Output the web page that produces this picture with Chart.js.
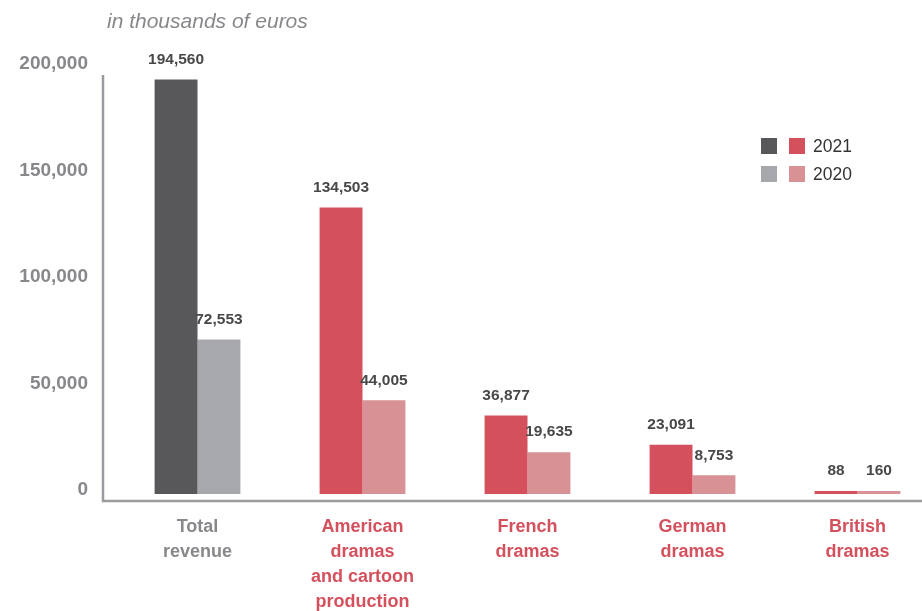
<!DOCTYPE html>
<html>
<head>
<meta charset="utf-8">
<script src="https://cdn.jsdelivr.net/npm/chart.js@4.4.1/dist/chart.umd.min.js"></script>
<style>
  html, body { margin: 0; padding: 0; background: #fff; overflow: hidden; }
  #wrap { width: 940px; height: 611px; }
</style>
</head>
<body>
<div id="wrap"><canvas id="chart" width="940" height="611"></canvas></div>
<script>
const categories = [
    ['Total', 'revenue'],
    ['American', 'dramas', 'and cartoon', 'production'],
    ['French', 'dramas'],
    ['German', 'dramas'],
    ['British', 'dramas'],
];
const values2021 = [194560, 134503, 36877, 23091, 88];
const values2020 = [72553, 44005, 19635, 8753, 160];
const yTicks = [0, 50000, 100000, 150000, 200000];

const colors2021 = ['#58585a', '#d4505c', '#d4505c', '#d4505c', '#d4505c'];
const colors2020 = ['#a7a8ab', '#d89295', '#d89295', '#d89295', '#d89295'];
const gray = '#88888c';
const red = '#d4505c';
const axisColor = '#9a9b9f';
const font = "'Liberation Sans', Arial, sans-serif";

const fmt = (v) => v.toLocaleString('en-US');

// axes lines, subtitle, value labels and the two-swatch legend
const extras = {
    id: 'extras',
    afterDatasetsDraw(chart) {
        const ctx = chart.ctx;
        const area = chart.chartArea;
        ctx.save();

        ctx.strokeStyle = axisColor;
        ctx.lineWidth = 2.5;
        ctx.beginPath();
        ctx.moveTo(103, 75);
        ctx.lineTo(103, area.bottom);
        ctx.lineTo(chart.width, area.bottom);
        ctx.stroke();

        ctx.fillStyle = gray;
        ctx.font = 'italic 21px ' + font;
        ctx.textAlign = 'left';
        ctx.textBaseline = 'middle';
        ctx.fillText('in thousands of euros', 107, 22);

        ctx.fillStyle = '#48484a';
        ctx.font = 'bold 15.5px ' + font;
        ctx.textAlign = 'center';
        chart.data.datasets.forEach((ds, i) => {
            chart.getDatasetMeta(i).data.forEach((bar, j) => {
                ctx.fillText(fmt(ds.data[j]), bar.x, bar.y - 20);
            });
        });

        const rows = [
            { label: '2021', c: [colors2021[0], colors2021[1]], y: 138 },
            { label: '2020', c: [colors2020[0], colors2020[1]], y: 166 },
        ];
        ctx.font = '17.5px ' + font;
        ctx.textAlign = 'left';
        rows.forEach(r => {
            ctx.fillStyle = r.c[0];
            ctx.fillRect(761, r.y, 16, 16);
            ctx.fillStyle = r.c[1];
            ctx.fillRect(789, r.y, 16, 16);
            ctx.fillStyle = '#333';
            ctx.fillText(r.label, 813, r.y + 9);
        });
        ctx.restore();
    }
};

new Chart(document.getElementById('chart'), {
    type: 'bar',
    data: {
        labels: categories,
        datasets: [
            {
                label: '2021',
                data: values2021,
                backgroundColor: colors2021,
                categoryPercentage: 0.52,
                barPercentage: 1.0,
                minBarLength: 3,
            },
            {
                label: '2020',
                data: values2020,
                backgroundColor: colors2020,
                categoryPercentage: 0.52,
                barPercentage: 1.0,
                minBarLength: 3,
            }
        ]
    },
    options: {
        responsive: false,
        animation: false,
        layout: { padding: { top: 68, right: 0, bottom: 0, left: 0 } },
        plugins: {
            legend: { display: false },
            tooltip: { enabled: false },
        },
        scales: {
            x: {
                grid: { display: false },
                border: { display: false },
                afterFit: (scale) => { scale.height = 110; },
                ticks: {
                    padding: 6,
                    maxRotation: 0,
                    autoSkip: false,
                    color: (c) => c.index === 0 ? gray : red,
                    font: { family: font, size: 18, weight: 'bold', lineHeight: 1.38 },
                },
            },
            y: {
                min: -3300,
                max: 200000,
                grid: { display: false },
                border: { display: false },
                afterFit: (scale) => { scale.width = 115; },
                afterBuildTicks: (scale) => { scale.ticks = yTicks.map(v => ({ value: v })); },
                ticks: {
                    padding: 19,
                    labelOffset: -4,
                    color: gray,
                    font: { family: font, size: 19, weight: 'bold' },
                    callback: (v) => fmt(v),
                },
            },
        },
    },
    plugins: [extras],
});
</script>
</body>
</html>
